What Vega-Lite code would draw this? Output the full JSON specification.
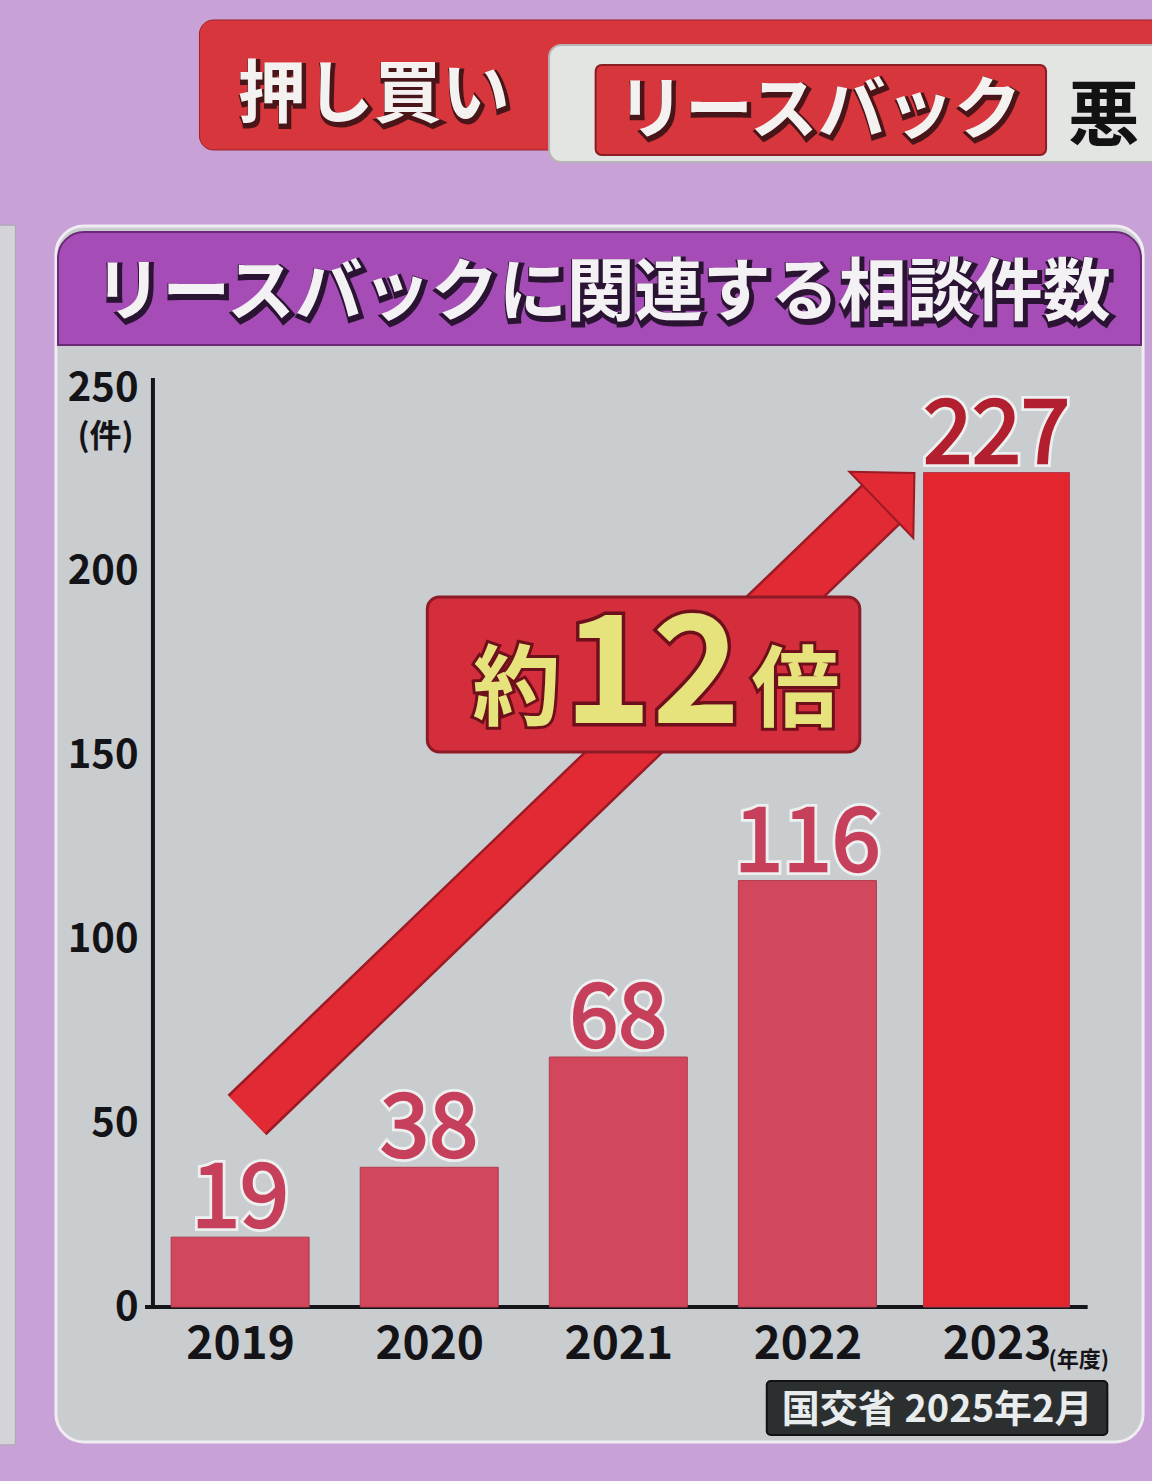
{
  "$schema": "https://vega.github.io/schema/vega-lite/v6.json",
  "width": 1004,
  "height": 1307,
  "autosize": {"type": "none"},
  "padding": {"left": 148, "top": 0, "right": 0, "bottom": 174},
  "background": "#c8a1d6",
  "config": {"view": {"stroke": null}, "font": "Noto Sans CJK JP", "text": {"font": "Noto Sans CJK JP"},
    "axis": {"domain": false, "ticks": false, "grid": false, "labelColor": "#141418", "labelFont": "Noto Sans CJK JP", "labelFontWeight": "bold", "labelFlush": false, "labelOverlap": false, "zindex": 1}},
  "layer": [
    {
      "data": {"values": [{"x": 2017.70, "x2": 2017.8115, "y": 294.3, "y2": -37.5}]},
      "mark": {"type": "rect", "fill": "#d3d3d8", "stroke": "#a9a9b0", "strokeWidth": 1},
      "encoding": {
        "x": {"field": "x", "type": "quantitative", "scale": {"domain": [2018.5393, 2023.7958], "nice": false, "zero": false}},
        "x2": {"field": "x2"},
        "y": {"field": "y", "type": "quantitative", "scale": {"domain": [0, 355.55], "nice": false, "zero": false}},
        "y2": {"field": "y2"}
      }
    },
    {
      "data": {"values": [{"x": 2018.785, "x2": 2023.89, "y": 350.11, "y2": 314.75}]},
      "mark": {"type": "rect", "fill": "#d8363d", "stroke": "#9a2228", "strokeWidth": 1, "cornerRadius": 14},
      "encoding": {
        "x": {"field": "x", "type": "quantitative", "scale": {"domain": [2018.5393, 2023.7958], "nice": false, "zero": false}},
        "x2": {"field": "x2"},
        "y": {"field": "y", "type": "quantitative", "scale": {"domain": [0, 355.55], "nice": false, "zero": false}},
        "y2": {"field": "y2"}
      }
    },
    {
      "data": {"values": [{"x": 2020.634, "x2": 2023.89, "y": 343.31, "y2": 311.48}]},
      "mark": {"type": "rect", "fill": "#e3e5e2", "stroke": "#b5b5b5", "strokeWidth": 2, "cornerRadius": 12},
      "encoding": {
        "x": {"field": "x", "type": "quantitative", "scale": {"domain": [2018.5393, 2023.7958], "nice": false, "zero": false}},
        "x2": {"field": "x2"},
        "y": {"field": "y", "type": "quantitative", "scale": {"domain": [0, 355.55], "nice": false, "zero": false}},
        "y2": {"field": "y2"}
      }
    },
    {
      "data": {"values": [{"x": 2020.880, "x2": 2023.262, "y": 337.87, "y2": 313.38}]},
      "mark": {"type": "rect", "fill": "#d8363d", "stroke": "#8a1e24", "strokeWidth": 2, "cornerRadius": 6},
      "encoding": {
        "x": {"field": "x", "type": "quantitative", "scale": {"domain": [2018.5393, 2023.7958], "nice": false, "zero": false}},
        "x2": {"field": "x2"},
        "y": {"field": "y", "type": "quantitative", "scale": {"domain": [0, 355.55], "nice": false, "zero": false}},
        "y2": {"field": "y2"}
      }
    },
    {
      "data": {"values": [{"x": 2019.707, "y": 329.2, "label": "押し買い"}, {"x": 2022.063, "y": 324.8, "label": "リースバック"}]},
      "encoding": {
        "x": {"field": "x", "type": "quantitative", "scale": {"domain": [2018.5393, 2023.7958], "nice": false, "zero": false}},
        "y": {"field": "y", "type": "quantitative", "scale": {"domain": [0, 355.55], "nice": false, "zero": false}},
        "text": {"field": "label"}
      },
      "layer": [
        {"mark": {"type": "text", "fontSize": 68, "fontWeight": "bold", "align": "center", "baseline": "middle", "dx": 2, "dy": 3, "fill": "#4a1518", "stroke": "#4a1518", "strokeWidth": 5}},
        {"mark": {"type": "text", "fontSize": 68, "fontWeight": "bold", "align": "center", "baseline": "middle", "fill": "#f4f2f0"}}
      ]
    },
    {
      "data": {"values": [{"x": 2023.377, "y": 323.45, "label": "悪"}]},
      "mark": {"type": "text", "fontSize": 72, "fontWeight": "bold", "align": "left", "baseline": "middle", "fill": "#121212"},
      "encoding": {
        "x": {"field": "x", "type": "quantitative", "scale": {"domain": [2018.5393, 2023.7958], "nice": false, "zero": false}},
        "y": {"field": "y", "type": "quantitative", "scale": {"domain": [0, 355.55], "nice": false, "zero": false}},
        "text": {"field": "label"}
      }
    },
    {
      "data": {"values": [{"x": 2018.026, "x2": 2023.775, "y": 294.07, "y2": -36.72}]},
      "mark": {"type": "rect", "fill": "#c9cdd0", "stroke": "#efedf2", "strokeWidth": 3, "cornerRadius": 28},
      "encoding": {
        "x": {"field": "x", "type": "quantitative", "scale": {"domain": [2018.5393, 2023.7958], "nice": false, "zero": false}},
        "x2": {"field": "x2"},
        "y": {"field": "y", "type": "quantitative", "scale": {"domain": [0, 355.55], "nice": false, "zero": false}},
        "y2": {"field": "y2"}
      }
    },
    {
      "data": {"values": [{"x": 2018.037, "x2": 2023.764, "y": 292.44, "y2": 261.70}]},
      "mark": {"type": "rect", "fill": "#a64cb7", "stroke": "#6b2a78", "strokeWidth": 2, "cornerRadiusTopLeft": 26, "cornerRadiusTopRight": 26},
      "encoding": {
        "x": {"field": "x", "type": "quantitative", "scale": {"domain": [2018.5393, 2023.7958], "nice": false, "zero": false}},
        "x2": {"field": "x2"},
        "y": {"field": "y", "type": "quantitative", "scale": {"domain": [0, 355.55], "nice": false, "zero": false}},
        "y2": {"field": "y2"}
      }
    },
    {
      "data": {"values": [{"x": 2020.916, "y": 275.3, "label": "リースバックに関連する相談件数"}]},
      "encoding": {
        "x": {"field": "x", "type": "quantitative", "scale": {"domain": [2018.5393, 2023.7958], "nice": false, "zero": false}},
        "y": {"field": "y", "type": "quantitative", "scale": {"domain": [0, 355.55], "nice": false, "zero": false}},
        "text": {"field": "label"}
      },
      "layer": [
        {"mark": {"type": "text", "fontSize": 68, "fontWeight": "bold", "align": "center", "baseline": "middle", "dx": 2, "dy": 3, "fill": "#2b1433", "stroke": "#2b1433", "strokeWidth": 6}},
        {"mark": {"type": "text", "fontSize": 68, "fontWeight": "bold", "align": "center", "baseline": "middle", "fill": "#f3f1f4"}}
      ]
    },
    {
      "data": {"values": [{"x": 2018.539, "y": 0, "y2": 252.72}]},
      "mark": {"type": "rule", "stroke": "#15151a", "strokeWidth": 4},
      "encoding": {
        "x": {"field": "x", "type": "quantitative", "scale": {"domain": [2018.5393, 2023.7958], "nice": false, "zero": false}},
        "y": {"field": "y", "type": "quantitative", "scale": {"domain": [0, 355.55], "nice": false, "zero": false}},
        "y2": {"field": "y2"}
      }
    },
    {
      "data": {"values": [{"x": 2018.497, "x2": 2023.482, "y": 0}]},
      "mark": {"type": "rule", "stroke": "#15151a", "strokeWidth": 4},
      "encoding": {
        "x": {"field": "x", "type": "quantitative", "scale": {"domain": [2018.5393, 2023.7958], "nice": false, "zero": false}},
        "x2": {"field": "x2"},
        "y": {"field": "y", "type": "quantitative", "scale": {"domain": [0, 355.55], "nice": false, "zero": false}}
      }
    },
    {
      "data": {"values": [
        {"year": 2019, "count": 19},
        {"year": 2020, "count": 38},
        {"year": 2021, "count": 68},
        {"year": 2022, "count": 116},
        {"year": 2023, "count": 227}
      ]},
      "encoding": {
        "x": {"field": "year", "type": "quantitative", "scale": {"domain": [2018.5393, 2023.7958], "nice": false, "zero": false},
          "axis": {"values": [2019, 2020, 2021, 2022, 2023], "format": "d", "title": null, "labelFontSize": 46, "labelPadding": 15, "zindex": 1}},
        "y": {"field": "count", "type": "quantitative", "scale": {"domain": [0, 355.55], "nice": false, "zero": false},
          "axis": {"values": [0, 50, 100, 150, 200, 250], "title": null, "labelFontSize": 40, "labelPadding": 10, "zindex": 1}}
      },
      "layer": [
        {
          "mark": {"type": "bar", "stroke": "#b23a4e", "strokeWidth": 1},
          "encoding": {
            "y2": {"datum": 0},
            "size": {"condition": {"test": "datum.year === 2023", "value": 146}, "value": 138},
            "color": {"condition": {"test": "datum.year === 2023", "value": "#e3252e"}, "value": "#d3475d"}
          }
        },
        {
          "mark": {"type": "text", "fontSize": 88, "align": "center", "baseline": "alphabetic", "dy": -10, "stroke": "#eef0f0", "strokeWidth": 8, "fill": "#eef0f0"},
          "encoding": {"text": {"field": "count"}}
        },
        {
          "mark": {"type": "text", "fontSize": 88, "align": "center", "baseline": "alphabetic", "dy": -10, "strokeWidth": 2.5},
          "encoding": {
            "text": {"field": "count"},
            "color": {"condition": {"test": "datum.year === 2023", "value": "#b2202f"}, "value": "#c6405c"},
            "stroke": {"condition": {"test": "datum.year === 2023", "value": "#b2202f"}, "value": "#c6405c"}
          }
        }
      ]
    },
    {
      "data": {"values": [{"x": 2019.0366, "y": 52.23}, {"x": 2022.4136, "y": 219.53}]},
      "encoding": {
        "x": {"field": "x", "type": "quantitative", "scale": {"domain": [2018.5393, 2023.7958], "nice": false, "zero": false}},
        "y": {"field": "y", "type": "quantitative", "scale": {"domain": [0, 355.55], "nice": false, "zero": false}}
      },
      "layer": [
        {"mark": {"type": "line", "stroke": "#9c1a24", "strokeWidth": 56, "strokeCap": "butt"}},
        {"mark": {"type": "line", "stroke": "#e12a33", "strokeWidth": 51, "strokeCap": "butt"}}
      ]
    },
    {
      "data": {"values": [{"x": 2022.4785, "y": 222.55}]},
      "mark": {"type": "point", "shape": "M-1,0.5L0,-0.5L1,0.5Z", "size": 8464, "angle": 46, "filled": true, "fill": "#e12a33", "stroke": "#9c1a24", "strokeWidth": 2, "opacity": 1},
      "encoding": {
        "x": {"field": "x", "type": "quantitative", "scale": {"domain": [2018.5393, 2023.7958], "nice": false, "zero": false}},
        "y": {"field": "y", "type": "quantitative", "scale": {"domain": [0, 355.55], "nice": false, "zero": false}}
      }
    },
    {
      "data": {"values": [{"x": 2019.990, "x2": 2022.277, "y": 193.15, "y2": 150.98}]},
      "mark": {"type": "rect", "fill": "#d42d3b", "stroke": "#8e1a26", "strokeWidth": 3, "cornerRadius": 12},
      "encoding": {
        "x": {"field": "x", "type": "quantitative", "scale": {"domain": [2018.5393, 2023.7958], "nice": false, "zero": false}},
        "x2": {"field": "x2"},
        "y": {"field": "y", "type": "quantitative", "scale": {"domain": [0, 355.55], "nice": false, "zero": false}},
        "y2": {"field": "y2"}
      }
    },
    {
      "data": {"values": [{"x": 2020.461, "y": 167.3, "label": "約"}, {"x": 2021.937, "y": 167.03, "label": "倍"}]},
      "encoding": {
        "x": {"field": "x", "type": "quantitative", "scale": {"domain": [2018.5393, 2023.7958], "nice": false, "zero": false}},
        "y": {"field": "y", "type": "quantitative", "scale": {"domain": [0, 355.55], "nice": false, "zero": false}},
        "text": {"field": "label"}
      },
      "layer": [
        {"mark": {"type": "text", "fontSize": 88, "fontWeight": "bold", "align": "center", "baseline": "middle", "fill": "#6e0f1c", "stroke": "#6e0f1c", "strokeWidth": 6}},
        {"mark": {"type": "text", "fontSize": 88, "fontWeight": "bold", "align": "center", "baseline": "middle", "fill": "#e6e37c"}}
      ]
    },
    {
      "data": {"values": [{"x": 2021.178, "y": 171.0, "label": "12"}]},
      "encoding": {
        "x": {"field": "x", "type": "quantitative", "scale": {"domain": [2018.5393, 2023.7958], "nice": false, "zero": false}},
        "y": {"field": "y", "type": "quantitative", "scale": {"domain": [0, 355.55], "nice": false, "zero": false}},
        "text": {"field": "label"}
      },
      "layer": [
        {"mark": {"type": "text", "fontSize": 150, "fontWeight": "bold", "align": "center", "baseline": "middle", "fill": "#6e0f1c", "stroke": "#6e0f1c", "strokeWidth": 7}},
        {"mark": {"type": "text", "fontSize": 150, "fontWeight": "bold", "align": "center", "baseline": "middle", "fill": "#e6e37c"}}
      ]
    },
    {
      "data": {"values": [{"x": 2018.288, "y": 236.67, "label": "(件)"}]},
      "mark": {"type": "text", "fontSize": 32, "fontWeight": "bold", "align": "center", "baseline": "middle", "fill": "#141418"},
      "encoding": {
        "x": {"field": "x", "type": "quantitative", "scale": {"domain": [2018.5393, 2023.7958], "nice": false, "zero": false}},
        "y": {"field": "y", "type": "quantitative", "scale": {"domain": [0, 355.55], "nice": false, "zero": false}},
        "text": {"field": "label"}
      }
    },
    {
      "data": {"values": [{"x": 2023.435, "y": -14.42, "label": "(年度)"}]},
      "mark": {"type": "text", "fontSize": 22, "fontWeight": "bold", "align": "center", "baseline": "middle", "fill": "#141418"},
      "encoding": {
        "x": {"field": "x", "type": "quantitative", "scale": {"domain": [2018.5393, 2023.7958], "nice": false, "zero": false}},
        "y": {"field": "y", "type": "quantitative", "scale": {"domain": [0, 355.55], "nice": false, "zero": false}},
        "text": {"field": "label"}
      }
    },
    {
      "data": {"values": [{"x": 2021.785, "x2": 2023.586, "y": -20.13, "y2": -34.82}]},
      "mark": {"type": "rect", "fill": "#2b2f30", "stroke": "#111111", "strokeWidth": 2, "cornerRadius": 4},
      "encoding": {
        "x": {"field": "x", "type": "quantitative", "scale": {"domain": [2018.5393, 2023.7958], "nice": false, "zero": false}},
        "x2": {"field": "x2"},
        "y": {"field": "y", "type": "quantitative", "scale": {"domain": [0, 355.55], "nice": false, "zero": false}},
        "y2": {"field": "y2"}
      }
    },
    {
      "data": {"values": [{"x": 2022.686, "y": -28.29, "label": "国交省 2025年2月"}]},
      "mark": {"type": "text", "fontSize": 38, "fontWeight": "bold", "align": "center", "baseline": "middle", "fill": "#e8ecec"},
      "encoding": {
        "x": {"field": "x", "type": "quantitative", "scale": {"domain": [2018.5393, 2023.7958], "nice": false, "zero": false}},
        "y": {"field": "y", "type": "quantitative", "scale": {"domain": [0, 355.55], "nice": false, "zero": false}},
        "text": {"field": "label"}
      }
    }
  ]
}
